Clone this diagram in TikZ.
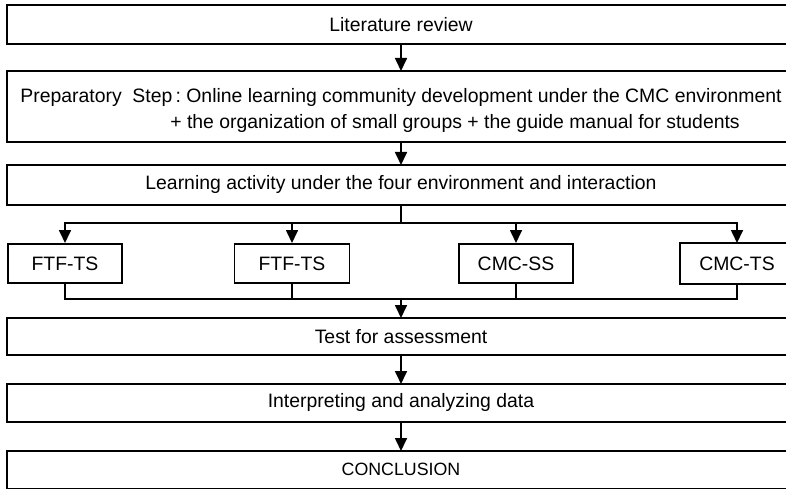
\documentclass[tikz,border=0pt]{standalone}
\usepackage{fontspec}
\setmainfont{Liberation Sans}
\usetikzlibrary{arrows.meta}
\begin{document}
\begin{tikzpicture}[x=1pt,y=-1pt,
  line width=1.7pt,
  every node/.style={font=\fontsize{19.4}{26}\selectfont},
  bigbox/.style={rectangle, anchor=north, minimum width=786pt, inner sep=0pt},
  smallbox/.style={draw, rectangle, anchor=north, minimum height=39pt, inner sep=0pt},
  arr/.style={-{Triangle[width=12pt,length=13pt]}},
  openbox/.style={line join=miter}]
\useasboundingbox[fill=white] (0,0) rectangle (786,489);

\node[bigbox, minimum height=37pt] (lit) at (401,5) {Literature review};
\node[bigbox, minimum height=69pt, align=left] (prep) at (401,71)
  {\rule{0pt}{22pt}Preparatory\ \ Step\,:\ Online learning community development under the CMC environment\\
   \hspace*{150pt}+ the organization of small groups + the guide manual for students};
\node[bigbox, minimum height=38pt] (learn) at (401,165) {Learning activity under the four environment and interaction};

\node[smallbox, minimum width=114pt] (f1) at (65,243) {FTF-TS};
\node[smallbox, minimum width=115pt] (f2) at (292,243) {FTF-TS};
\node[smallbox, minimum width=114pt] (c1) at (516,243) {CMC-SS};
\node[rectangle, anchor=north, minimum height=39pt, inner sep=0pt, minimum width=112pt] (c2) at (737,243) {CMC-TS};

\node[bigbox, minimum height=35pt] (test) at (401,318) {Test for assessment};
\node[bigbox, minimum height=36pt] (interp) at (401,384) {Interpreting and analyzing data};
\node[bigbox, minimum height=36pt, font=\fontsize{17.8}{22}\selectfont] (concl) at (401,451) {CONCLUSION};

% open outlines: the boxes run past the right edge of the picture
\foreach \n in {lit,prep,learn,test,interp,concl,c2}
  \draw[openbox] (\n.north east) -- (\n.north west) -- (\n.south west) -- (\n.south east);

\coordinate (split) at (401,223);
\coordinate (join) at (401,299);

\draw[arr] (lit.south) -- (prep.north);
\draw[arr] (prep.south) -- (learn.north);
\draw (learn.south) -- (split);
\draw[arr] (split) -| (f1.north);
\draw[arr] (split) -| (f2.north);
\draw[arr] (split) -| (c1.north);
\draw[arr] (split) -| (c2.north);
\draw (f1.south) |- (join);
\draw (f2.south) |- (join);
\draw (c1.south) |- (join);
\draw (c2.south) |- (join);
\draw[arr] (join) -- (test.north);
\draw[arr] (test.south) -- (interp.north);
\draw[arr] (interp.south) -- (concl.north);
\end{tikzpicture}
\end{document}
